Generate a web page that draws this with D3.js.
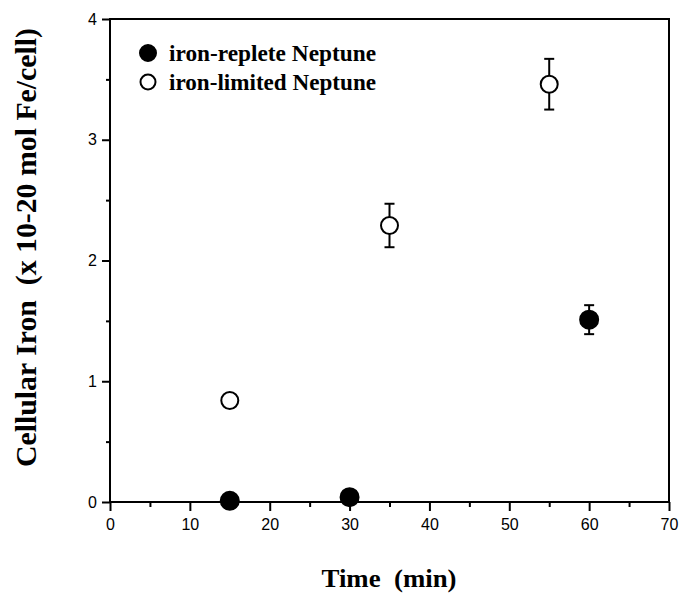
<!DOCTYPE html>
<html>
<head>
<meta charset="utf-8">
<script src="https://cdn.jsdelivr.net/npm/d3@7"></script>
<style>
  body { margin: 0; background: #fff; }
</style>
</head>
<body>
<div id="chart"></div>
<script>
// data
const repleteTime = [15, 30, 60];
const repleteIron = [0.01, 0.04, 1.51];
const repleteErr = [0, 0, 0.12];

const limitedTime = [15, 35, 55];
const limitedIron = [0.84, 2.29, 3.46];
const limitedErr = [0, 0.18, 0.21];

const xTicks = [0, 10, 20, 30, 40, 50, 60, 70];
const yTicks = [0, 1, 2, 3, 4];
const legendLabels = ["iron-replete Neptune", "iron-limited Neptune"];

const width = 679;
const height = 598;
const marginTop = 19;
const marginRight = 10;
const marginBottom = 96;
const marginLeft = 110;

const svg = d3.select("#chart")
    .append("svg")
    .attr("width", width)
    .attr("height", height)
    .attr("viewBox", [0, 0, width, height]);

const x = d3.scaleLinear([0, 70], [marginLeft, width - marginRight]);
const y = d3.scaleLinear([0, 4], [height - marginBottom, marginTop]);

const tickFont = "'Liberation Sans', Arial, sans-serif";
const titleFont = "'Liberation Serif', 'Times New Roman', serif";

// frame
svg.append("rect")
    .attr("x", x(0))
    .attr("y", y(4))
    .attr("width", x(70) - x(0))
    .attr("height", y(0) - y(4))
    .attr("fill", "none")
    .attr("stroke", "#000")
    .attr("stroke-width", 2);

// x axis
const xMinor = d3.range(5, 70, 10);
svg.append("g")
    .attr("transform", `translate(0,${y(0)})`)
    .call(d3.axisBottom(x).tickValues(xMinor).tickSize(5).tickFormat(""))
    .call(g => g.select(".domain").remove())
    .call(g => g.selectAll(".tick line").attr("stroke-width", 2));

svg.append("g")
    .attr("transform", `translate(0,${y(0)})`)
    .call(d3.axisBottom(x).tickValues(xTicks).tickSize(9).tickPadding(8).tickFormat(d3.format("d")))
    .call(g => g.select(".domain").remove())
    .call(g => g.selectAll(".tick line").attr("stroke-width", 2))
    .call(g => g.selectAll(".tick text")
        .attr("font-family", tickFont)
        .attr("font-size", 16)
        .attr("fill", "#000"));

// y axis
const yMinor = d3.range(0.5, 4, 1);
svg.append("g")
    .attr("transform", `translate(${x(0)},0)`)
    .call(d3.axisLeft(y).tickValues(yMinor).tickSize(4).tickFormat(""))
    .call(g => g.select(".domain").remove())
    .call(g => g.selectAll(".tick line").attr("stroke-width", 2));

svg.append("g")
    .attr("transform", `translate(${x(0)},0)`)
    .call(d3.axisLeft(y).tickValues(yTicks).tickSize(8).tickPadding(5).tickFormat(d3.format("d")))
    .call(g => g.select(".domain").remove())
    .call(g => g.selectAll(".tick line").attr("stroke-width", 2))
    .call(g => g.selectAll(".tick text")
        .attr("font-family", tickFont)
        .attr("font-size", 16)
        .attr("fill", "#000"));

// axis titles
svg.append("text")
    .attr("x", 389)
    .attr("y", 587)
    .attr("text-anchor", "middle")
    .attr("font-family", titleFont)
    .attr("font-weight", "bold")
    .attr("font-size", 26)
    .attr("textLength", 135)
    .attr("lengthAdjust", "spacingAndGlyphs")
    .style("white-space", "pre")
    .text("Time  (min)");

svg.append("text")
    .attr("transform", `translate(36,${(28 + 467) / 2}) rotate(-90)`)
    .attr("text-anchor", "middle")
    .attr("font-family", titleFont)
    .attr("font-weight", "bold")
    .attr("font-size", 29)
    .attr("textLength", 439)
    .attr("lengthAdjust", "spacingAndGlyphs")
    .style("white-space", "pre")
    .text("Cellular Iron  (x 10-20 mol Fe/cell)");

// series
function drawSeries(times, vals, errs, filled, r) {
    const pts = times.map((t, i) => ({ t: t, v: vals[i], e: errs[i] }));
    const g = svg.append("g");
    const withErr = pts.filter(d => d.e > 0);
    g.selectAll(".eb").data(withErr).join("line")
        .attr("x1", d => x(d.t)).attr("x2", d => x(d.t))
        .attr("y1", d => y(d.v + d.e)).attr("y2", d => y(d.v - d.e))
        .attr("stroke", "#000").attr("stroke-width", 2);
    [1, -1].forEach(s => {
        g.selectAll(".cap" + s).data(withErr).join("line")
            .attr("x1", d => x(d.t) - 5).attr("x2", d => x(d.t) + 5)
            .attr("y1", d => y(d.v + s * d.e)).attr("y2", d => y(d.v + s * d.e))
            .attr("stroke", "#000").attr("stroke-width", 2);
    });
    g.selectAll("circle").data(pts).join("circle")
        .attr("cx", d => x(d.t))
        .attr("cy", d => y(d.v))
        .attr("r", r)
        .attr("fill", filled ? "#000" : "#fff")
        .attr("stroke", "#000")
        .attr("stroke-width", 2);
}

drawSeries(limitedTime, limitedIron, limitedErr, false, 8.5);
drawSeries(repleteTime, repleteIron, repleteErr, true, 9);

// legend
const legend = svg.append("g");
legendLabels.forEach((lab, i) => {
    const ly = 53 + i * 29;
    legend.append("circle")
        .attr("cx", 148)
        .attr("cy", ly)
        .attr("r", i === 0 ? 8 : 7.5)
        .attr("fill", i === 0 ? "#000" : "#fff")
        .attr("stroke", "#000")
        .attr("stroke-width", 2);
    legend.append("text")
        .attr("x", 169)
        .attr("y", ly + 8)
        .attr("font-family", titleFont)
        .attr("font-weight", "bold")
        .attr("font-size", 23)
        .attr("textLength", 207)
        .attr("lengthAdjust", "spacingAndGlyphs")
        .text(lab);
});
</script>
</body>
</html>
